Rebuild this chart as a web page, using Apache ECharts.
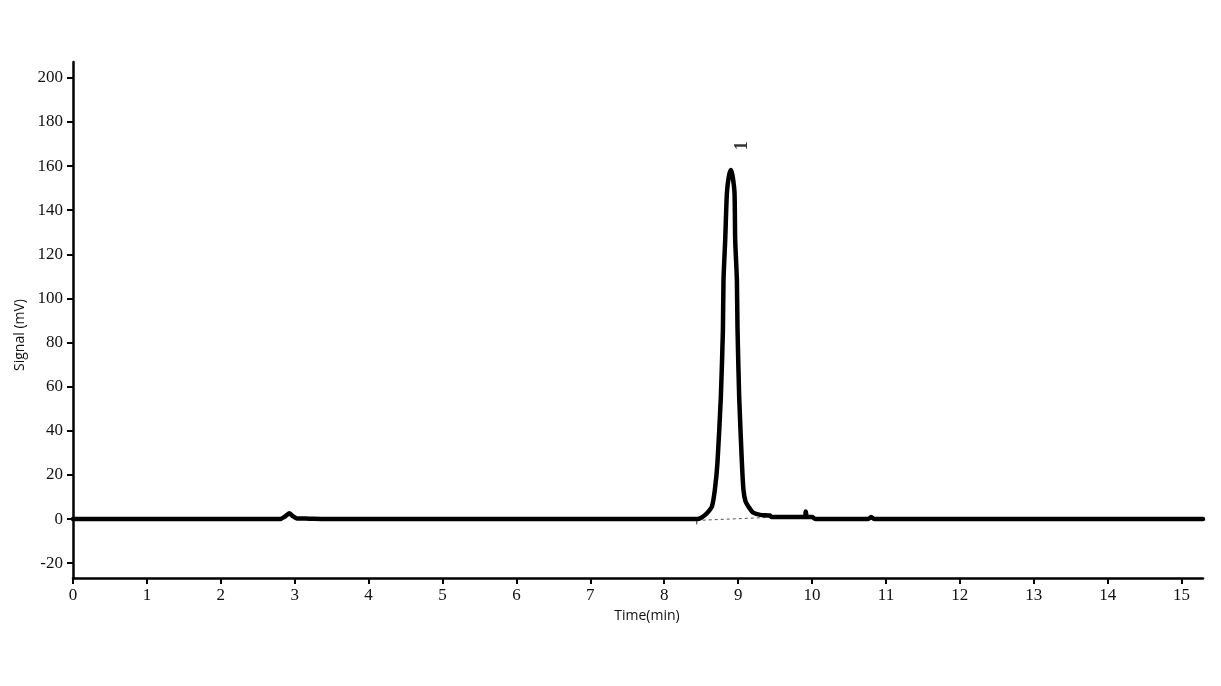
<!DOCTYPE html>
<html>
<head>
<meta charset="utf-8">
<script src="https://cdn.jsdelivr.net/npm/echarts@6/dist/echarts.min.js"></script>
<style>
  html, body { margin: 0; padding: 0; background: #fff; }
  #myChart { width: 1221px; height: 686px; }
</style>
</head>
<body>
<div id="myChart"></div>
<script>
// tick labels
const xTicks = [0, 1, 2, 3, 4, 5, 6, 7, 8, 9, 10, 11, 12, 13, 14, 15]
const yTicks = [-20, 0, 20, 40, 60, 80, 100, 120, 140, 160, 180, 200]

// chromatogram trace (time in min, signal in mV)
const traceTime = [
  0, 2.8, 2.87, 2.93, 2.98, 3.03, 3.2, 3.4,
  8.45, 8.5, 8.554, 8.6, 8.645, 8.685, 8.72, 8.766, 8.794, 8.802, 8.825, 8.848, 8.875,
  8.902,
  8.925, 8.951, 8.96, 8.983, 8.991, 9.014, 9.051, 9.072, 9.1, 9.14, 9.2, 9.299, 9.43,
  9.45, 9.9, 9.915, 9.93, 10.0, 10.05, 10.76, 10.8, 10.84, 15.29,
]
const traceSignal = [
  0, 0, 1.2, 2.6, 1.2, 0.3, 0.2, 0,
  0, 0.6, 1.9, 3.5, 5.6, 13.3, 25.5, 55.4, 85.8, 108.5, 126.6, 147.9, 155.5,
  158.3,
  155.5, 147.9, 126.6, 108.5, 87.2, 55.4, 25.5, 13.3, 8, 5.6, 3, 1.9, 1.6,
  0.9, 0.9, 3.4, 0.9, 0.9, 0, 0, 1, 0, 0,
]

// integration baseline under peak 1
const baseTime = [8.44, 9.45]
const baseSignal = [-0.6, 0.8]
const startMarkTime = [8.44, 8.44]
const startMarkSignal = [-0.3, -2.4]

// peak label
const peakNames = ['1']
const peakTime = [9.055]
const peakSignal = [169.2]

const zip = (a, b) => a.map((v, i) => [v, b[i]])

const chart = echarts.init(document.getElementById('myChart'))
chart.setOption({
  animation: false,
  grid: {
    left: 73,
    right: 18,
    top: 62,
    bottom: 108,
  },
  xAxis: {
    type: 'value',
    min: 0,
    max: 15.29,
    name: 'Time(min)',
    nameLocation: 'middle',
    nameGap: 27,
    nameTextStyle: {
      fontFamily: 'Open Sans',
      fontSize: 14,
      color: '#111',
      padding: [0, 0, 0, 18],
    },
    splitLine: { show: false },
    axisLine: {
      onZero: false,
      lineStyle: { color: '#000', width: 2.5 },
    },
    axisTick: {
      customValues: xTicks,
      length: 6,
      lineStyle: { color: '#000', width: 2 },
    },
    axisLabel: {
      customValues: xTicks,
      margin: 9,
      fontFamily: 'Liberation Serif',
      fontSize: 17,
      color: '#111',
    },
  },
  yAxis: {
    type: 'value',
    min: -26.7,
    max: 207.2,
    name: 'Signal (mV)',
    nameLocation: 'middle',
    nameGap: 45,
    nameTextStyle: {
      fontFamily: 'Open Sans',
      fontSize: 14,
      color: '#111',
      padding: [0, 30, 0, 0],
    },
    splitLine: { show: false },
    axisLine: {
      show: true,
      onZero: false,
      lineStyle: { color: '#000', width: 2.5 },
    },
    axisTick: {
      show: true,
      customValues: yTicks,
      length: 6,
      lineStyle: { color: '#000', width: 2 },
    },
    axisLabel: {
      customValues: yTicks,
      margin: 10,
      fontFamily: 'Liberation Serif',
      fontSize: 17,
      color: '#111',
    },
  },
  series: [{
    name: 'baseline',
    type: 'line',
    showSymbol: false,
    silent: true,
    data: zip(baseTime, baseSignal),
    lineStyle: { color: '#555', width: 1, type: [3, 3] },
  },
  {
    name: 'start',
    type: 'line',
    showSymbol: false,
    silent: true,
    data: zip(startMarkTime, startMarkSignal),
    lineStyle: { color: '#333', width: 1 },
  },
  {
    name: 'signal',
    type: 'line',
    showSymbol: false,
    silent: true,
    smooth: 0.2,
    data: zip(traceTime, traceSignal),
    lineStyle: { color: '#000', width: 4.5, join: 'round', cap: 'round' },
  },
  {
    name: 'peaks',
    type: 'scatter',
    symbolSize: 0,
    silent: true,
    data: zip(peakTime, peakSignal).map((d, i) => ({ value: d, name: peakNames[i] })),
    label: {
      show: true,
      position: 'inside',
      formatter: p => p.name,
      rotate: 90,
      fontFamily: 'Liberation Serif',
      fontSize: 18,
      fontWeight: 'bold',
      color: '#000',
    },
  }],
})
</script>
</body>
</html>
